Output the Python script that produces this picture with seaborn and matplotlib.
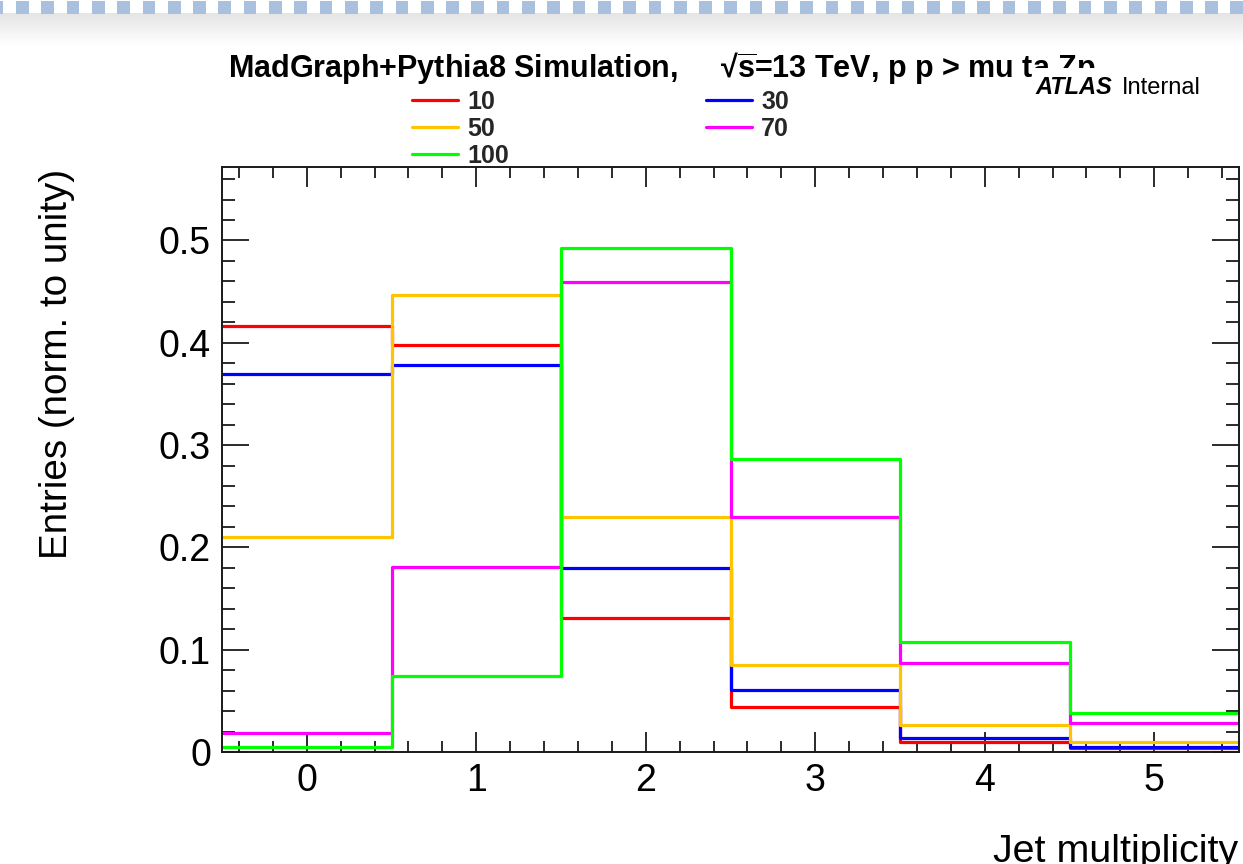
import numpy as np
import pandas as pd
import matplotlib
matplotlib.use("Agg")
import matplotlib.pyplot as plt
import seaborn as sns
from matplotlib.patches import Rectangle
from matplotlib.ticker import MultipleLocator, FixedLocator

# ---------------- data ----------------
jet_multiplicity = [0, 1, 2, 3, 4, 5]
bin_edges = [-0.5, 0.5, 1.5, 2.5, 3.5, 4.5, 5.5]
series_labels = ["10", "30", "50", "70", "100"]
entries_10 = [0.416, 0.398, 0.131, 0.044, 0.010, 0.004]
entries_30 = [0.369, 0.378, 0.180, 0.061, 0.014, 0.005]
entries_50 = [0.210, 0.447, 0.230, 0.085, 0.026, 0.010]
entries_70 = [0.019, 0.181, 0.459, 0.230, 0.087, 0.028]
entries_100 = [0.005, 0.074, 0.493, 0.286, 0.108, 0.038]
series_values = [entries_10, entries_30, entries_50, entries_70, entries_100]
series_colors = ["#ff0000", "#0000ff", "#ffc400", "#ff00ff", "#00ff00"]
legend_order = ["10", "50", "100", "30", "70"]
x_ticks = [0, 1, 2, 3, 4, 5]
y_ticks = [0, 0.1, 0.2, 0.3, 0.4, 0.5]
title_text = "MadGraph+Pythia8 Simulation,     \u221a$\\overline{\\mathbf{s}}$=13 TeV, p p > mu ta Zp"

# ---------------- style ----------------
sns.set_theme(style="ticks")
plt.rcParams["font.family"] = ["Liberation Sans", "DejaVu Sans"]
plt.rcParams["mathtext.fontset"] = "custom"
plt.rcParams["mathtext.rm"] = "Liberation Sans"
plt.rcParams["mathtext.bf"] = "Liberation Sans:bold"
plt.rcParams["mathtext.it"] = "Liberation Sans:italic"

W, H = 1243, 864
fig = plt.figure(figsize=(W / 100, H / 100), dpi=100)
fig.patch.set_facecolor("white")


def fx(px):
    return px / W


def fy(py):
    return 1 - py / H


# ---------------- screenshot decoration at the top ----------------
grad_ax = fig.add_axes([0, fy(46), 1, fy(13) - fy(46)])
grad = np.linspace(0.895, 1.0, 64).reshape(-1, 1)
grad_ax.imshow(grad, cmap="gray", vmin=0, vmax=1, aspect="auto",
               extent=[0, 1, 0, 1])
grad_ax.set_axis_off()
for k in range(-1, 50):
    x0 = 16 + k * 25.3
    fig.patches.append(Rectangle((fx(x0), fy(13.5)), fx(12.7), fy(0.5) - fy(13.5),
                                 transform=fig.transFigure,
                                 facecolor="#a9c1df", edgecolor="none",
                                 zorder=1))

# ---------------- main axes ----------------
ax = fig.add_axes([fx(222), fy(752), fx(1239) - fx(222), fy(167.3) - fy(752)])
ax.set_facecolor("white")

for lab, vals, col in zip(series_labels, series_values, series_colors):
    sns.histplot(x=jet_multiplicity, weights=vals, bins=bin_edges,
                 element="step", fill=False, color=col, linewidth=2.3,
                 ax=ax, label=lab)

ax.set_xlim(bin_edges[0], bin_edges[-1])
ax.set_ylim(0, 0.5715)
ax.set_xlabel("")
ax.set_ylabel("")
ax.xaxis.set_major_locator(FixedLocator(x_ticks))
ax.xaxis.set_minor_locator(MultipleLocator(0.2))
ax.yaxis.set_major_locator(FixedLocator(y_ticks))
ax.yaxis.set_minor_locator(MultipleLocator(0.02))
ax.set_xticklabels([str(t) for t in x_ticks])
ax.set_yticklabels(["0" if t == 0 else f"{t:.1f}" for t in y_ticks])

for sp in ax.spines.values():
    sp.set_visible(True)
    sp.set_linewidth(1.4)
    sp.set_color("#1a1a1a")

ax.tick_params(axis="both", which="both", direction="in", top=True,
               right=True, color="#1a1a1a", width=1.3, labelcolor="black")
ax.tick_params(axis="y", which="major", length=19.5, labelsize=27, pad=8)
ax.tick_params(axis="y", which="minor", length=9.7)
ax.tick_params(axis="x", which="major", length=14.5, labelsize=27, pad=8)
ax.tick_params(axis="x", which="minor", length=8)

# axis titles
fig.text(fx(57), fy(169), "Entries (norm. to unity)", rotation=90,
         ha="center", va="top", fontsize=27.8, color="black")
fig.text(fx(1238), fy(862), "Jet multiplicity", ha="right", va="baseline",
         fontsize=28.4, color="black")

# title
fig.text(fx(228), fy(77), title_text, ha="left", va="baseline",
         fontsize=22, fontweight="bold", color="black", zorder=3)

# white box of ATLAS label overlapping the title
fig.patches.append(Rectangle((fx(1032), fy(104)), fx(211), fy(68) - fy(104),
                             transform=fig.transFigure, facecolor="white",
                             edgecolor="none", zorder=4))
fig.text(fx(1035), fy(94), "ATLAS", ha="left", va="baseline", fontsize=17,
         fontweight="bold", fontstyle="italic", color="black", zorder=5)
fig.text(fx(1122), fy(94), "Internal", ha="left", va="baseline", fontsize=17,
         color="black", zorder=5)

# legend
handles = {h.get_label(): h for h in ax.get_lines()}
leg_handles = [handles[l] for l in legend_order]
fig.legend(leg_handles, legend_order, ncol=2, loc="upper left",
           bbox_to_anchor=(fx(412), fy(90)), bbox_transform=fig.transFigure,
           frameon=False, prop={"weight": "bold", "size": 18},
           handlelength=1.84, handletextpad=0.36, columnspacing=7.9,
           labelspacing=0.12, borderpad=0, borderaxespad=0)

fig.savefig("out.png", dpi=100, facecolor="white")
